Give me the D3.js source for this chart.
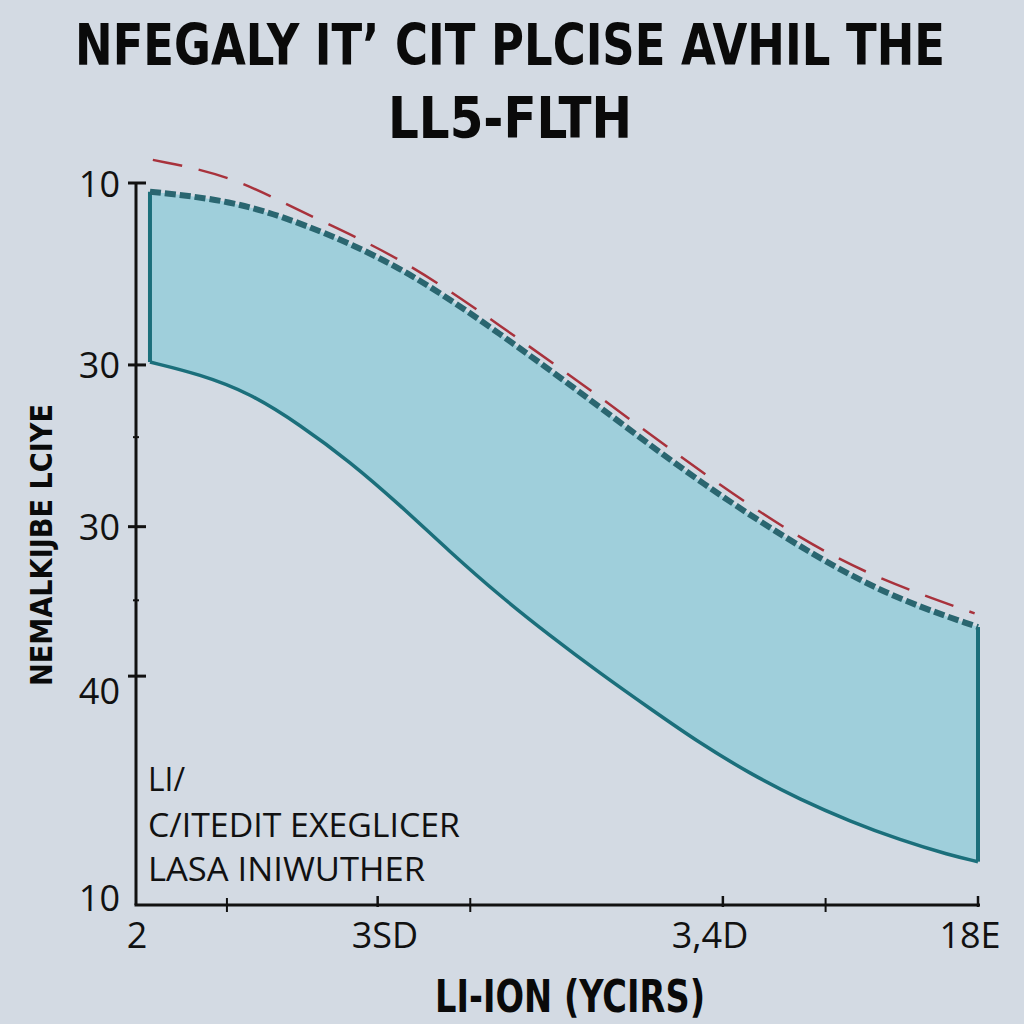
<!DOCTYPE html>
<html><head><meta charset="utf-8">
<script src="https://cdn.jsdelivr.net/npm/d3@7"></script>
<style>html,body{margin:0;padding:0;background:#d3dae3;}svg{display:block;}</style>
</head><body>
<script>
// ---- data ----
const xTickValues = [0, 28.7, 69.7, 100];
const xTickLabels = ["2", "3SD", "3,4D", "18E"];
const xMinorTicks = [10.8, 39.7, 81.9];
const yTickValues = [100, 74.8, 52.4, 31.7, 0];
const yTickLabels = ["10", "30", "30", "40", "10"];
const yMinorTicks = [64.8, 42.2];

const upperX = [1.66, 11.2, 19.5, 31.4, 43.2, 55.1, 67.0, 81.2, 90.7, 100];
const upperY = [98.8, 97.6, 94.6, 88.6, 79.2, 69.0, 58.4, 47.8, 42.2, 38.5];
const lowerX = [1.66, 7.60, 13.54, 19.48, 25.42, 31.35, 37.29, 43.23, 49.17, 55.11, 61.05, 66.98, 72.92, 78.86, 84.80, 90.74, 96.67, 100];
const lowerY = [75.2, 73.5, 70.9, 66.5, 61.4, 55.4, 48.9, 42.8, 37.3, 32.1, 27.2, 22.4, 18.2, 14.6, 11.6, 9.0, 6.9, 6.0];
const refX = [2.0, 11.2, 19.5, 31.4, 43.2, 55.1, 67.0, 78.9, 88.4, 99.6];
const refY = [103.2, 101.1, 96.0, 89.8, 80.3, 70.4, 60.0, 50.6, 45.0, 40.4];

const titleLines = ["NFEGALY IT\u2019 CIT PLCISE AVHIL THE", "LL5-FLTH"];
const yAxisTitle = "NEMALKIJBE LCIYE";
const xAxisTitle = "LI-ION (YCIRS)";
const noteLines = ["LI/", "C/ITEDIT EXEGLICER", "LASA INIWUTHER"];

// ---- drawing ----
const W = 1024, H = 1024;
const svg = d3.select("body").append("svg").attr("width", W).attr("height", H);
svg.append("rect").attr("width", W).attr("height", H).attr("fill", "#d3dae3");

const x = d3.scaleLinear().domain([0, 100]).range([136, 978]);
const y = d3.scaleLinear().domain([0, 100]).range([905, 183]);

const upper = upperX.map((v, i) => [v, upperY[i]]);
const lower = lowerX.map((v, i) => [v, lowerY[i]]);
const ref = refX.map((v, i) => [v, refY[i]]);

const line = d3.line().x(d => x(d[0])).y(d => y(d[1])).curve(d3.curveBasis);

const upPath = line(upper);
const lowRev = line(lower.slice().reverse());
const areaD = upPath + "L" + lowRev.slice(1) + "Z";
svg.append("path").attr("d", areaD).attr("fill", "#9fcfdb").attr("stroke", "none");

const lastU = upper.length - 1, lastL = lower.length - 1;
svg.append("line").attr("x1", x(upper[0][0])).attr("x2", x(lower[0][0]))
  .attr("y1", y(upper[0][1])).attr("y2", y(lower[0][1]))
  .attr("stroke", "#1b6f7b").attr("stroke-width", 4);
svg.append("line").attr("x1", x(upper[lastU][0])).attr("x2", x(lower[lastL][0]))
  .attr("y1", y(upper[lastU][1])).attr("y2", y(lower[lastL][1]))
  .attr("stroke", "#1b6f7b").attr("stroke-width", 4);

svg.append("path").attr("d", line(lower)).attr("fill", "none")
  .attr("stroke", "#1b6f7b").attr("stroke-width", 3.5);
svg.append("path").attr("d", line(upper)).attr("fill", "none")
  .attr("stroke", "#2a6670").attr("stroke-width", 6).attr("stroke-dasharray", "11,4");
svg.append("path").attr("d", line(ref)).attr("fill", "none")
  .attr("stroke", "#a8323c").attr("stroke-width", 2.5).attr("stroke-dasharray", "30,17");

// axes
const ax = svg.append("g").attr("stroke", "#111").attr("stroke-width", 3);
ax.append("line").attr("x1", x(0)).attr("x2", x(0)).attr("y1", y(100)).attr("y2", y(0));
ax.append("line").attr("x1", x(0) - 1.5).attr("x2", x(100) + 2).attr("y1", y(0)).attr("y2", y(0));
yTickValues.forEach(v => {
  if (v === 0) return;
  ax.append("line").attr("x1", x(0) - 8).attr("x2", x(0) + 10).attr("y1", y(v)).attr("y2", y(v));
});
yMinorTicks.forEach(v => {
  ax.append("line").attr("x1", x(0) - 3).attr("x2", x(0) + 3).attr("y1", y(v)).attr("y2", y(v)).attr("stroke-width", 2);
});
xTickValues.forEach(v => {
  if (v === 0) return;
  ax.append("line").attr("x1", x(v)).attr("x2", x(v)).attr("y1", y(0) - 9).attr("y2", y(0) + 2).attr("stroke-width", 2.5);
});
xMinorTicks.forEach(v => {
  ax.append("line").attr("x1", x(v)).attr("x2", x(v)).attr("y1", y(0) - 7).attr("y2", y(0) + 7).attr("stroke-width", 2);
});

const lab = svg.append("g").attr("font-family", "'Open Sans', 'DejaVu Sans', sans-serif").attr("fill", "#111");
const yLabelOffsets = [0, 0, 0, 14, -8];
yTickValues.forEach((v, i) => {
  lab.append("text").attr("x", x(0) - 16).attr("y", y(v) + yLabelOffsets[i])
    .attr("text-anchor", "end").attr("dominant-baseline", "central")
    .attr("font-size", 36).text(yTickLabels[i]);
});
const xLabelCenters = [137, 385, 710, 970];
xTickValues.forEach((v, i) => {
  lab.append("text").attr("x", xLabelCenters[i]).attr("y", 948)
    .attr("text-anchor", "middle").attr("font-size", 36).text(xTickLabels[i]);
});

const noteY = [791, 837, 881];
const noteW = [37, 312, 277];
noteLines.forEach((t, i) => {
  lab.append("text").attr("x", 148).attr("y", noteY[i]).attr("font-size", 33)
    .attr("textLength", noteW[i]).attr("lengthAdjust", "spacingAndGlyphs").text(t);
});

const tg = svg.append("g").attr("font-family", "'DejaVu Sans Condensed', 'Liberation Sans Narrow', sans-serif")
  .attr("font-weight", "bold").attr("fill", "#0a0a0a").attr("text-anchor", "middle");
tg.append("text").attr("transform", "translate(510,65) scale(1,1.25)").attr("font-size", 46)
  .attr("textLength", 870).attr("lengthAdjust", "spacingAndGlyphs").text(titleLines[0]);
tg.append("text").attr("transform", "translate(510,138) scale(1,1.25)").attr("font-size", 46)
  .attr("textLength", 244).attr("lengthAdjust", "spacingAndGlyphs").text(titleLines[1]);
tg.append("text").attr("transform", "translate(570,1012) scale(1,1.15)").attr("font-size", 38)
  .attr("textLength", 270).attr("lengthAdjust", "spacingAndGlyphs").text(xAxisTitle);
tg.append("text").attr("transform", "translate(52,545) rotate(-90)").attr("font-size", 30)
  .attr("textLength", 282).attr("lengthAdjust", "spacingAndGlyphs").text(yAxisTitle);
</script>
</body></html>
